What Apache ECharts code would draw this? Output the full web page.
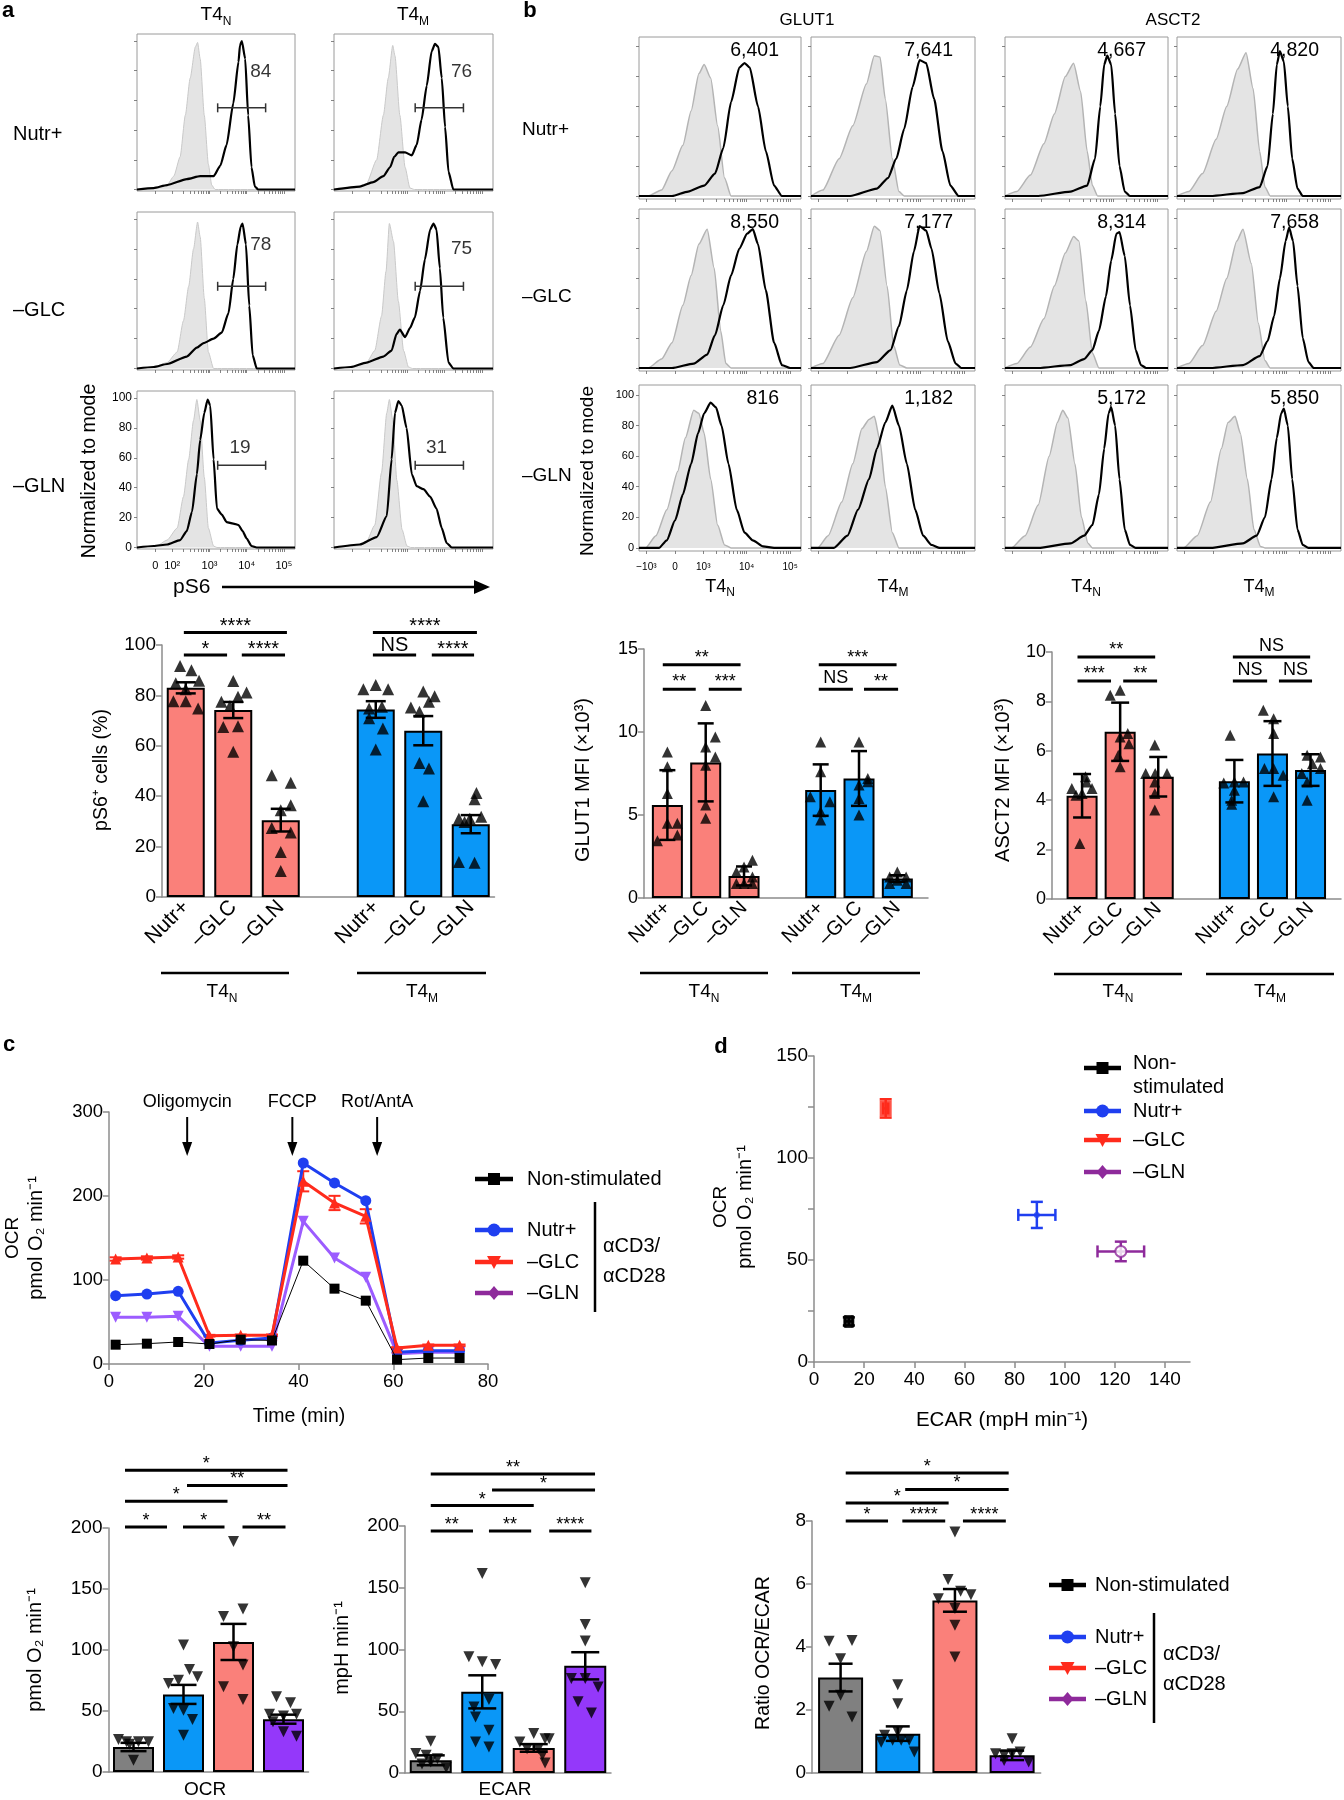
<!DOCTYPE html>
<html>
<head>
<meta charset="utf-8">
<title>pS6, GLUT1, ASCT2 and OCR/ECAR panels</title>
<script src="https://cdn.jsdelivr.net/npm/echarts@6.0.0/dist/echarts.min.js"></script>
<style>
  html, body { margin: 0; padding: 0; background: #fff; }
  #main { width: 1344px; height: 1800px; }
</style>
</head>
<body>
<div id="main"></div>
<script>
var SANS = '"Liberation Sans", Arial, Helvetica, sans-serif';
var NARROW = '"Liberation Sans Narrow", "Liberation Sans", Arial, sans-serif';
var AXIS = '#8c8c8c';

// ---------- a: pS6 histograms, x in decades (10^3 = 3), y = % of mode ----------
var aTickVals = [1.54, 2, 3, 4, 5];
var aTickNames = ['0', '10²', '10³', '10⁴', '10⁵'];
var aRowNames = ['Nutr+', '–GLC', '–GLN'];
var aNutrN_ctrl = [[1.05,0],[1.6,1],[1.86,3],[2.04,9],[2.21,22],[2.35,50],[2.48,75],[2.62,96],[2.68,99],[2.75,88],[2.86,50],[2.97,17],[3.06,3],[3.15,0],[5.3,0]];
var aNutrN_ps6 = [[1.05,0],[1.5,1],[1.86,3],[2.39,7],[2.75,9],[3.11,9],[3.29,16],[3.46,30],[3.64,58],[3.78,86],[3.82,97],[3.87,100],[3.96,88],[4.04,50],[4.13,15],[4.22,2],[4.31,0],[5.3,0]];
var aNutrM_ctrl = [[1.05,0],[1.6,1],[1.92,4],[2.19,20],[2.37,50],[2.5,75],[2.62,97],[2.68,90],[2.81,50],[2.95,15],[3.08,1],[3.2,0],[5.3,0]];
var aNutrM_ps6 = [[1.05,0],[1.74,2],[2.1,5],[2.37,9],[2.55,15],[2.66,22],[2.77,25],[2.95,25],[3.13,23],[3.26,30],[3.39,47],[3.53,70],[3.66,93],[3.75,98],[3.84,96],[3.93,75],[4.02,42],[4.11,12],[4.24,0],[5.3,0]];
var aGlcN_ctrl = [[1.05,0],[1.5,1],[1.86,4],[2.13,11],[2.3,32],[2.44,55],[2.57,80],[2.68,98],[2.75,88],[2.86,47],[2.97,11],[3.11,0],[5.3,0]];
var aGlcN_ps6 = [[1.05,0],[1.5,1],[1.86,3],[2.39,8],[2.66,14],[2.84,17],[3.11,20],[3.33,24],[3.51,37],[3.64,60],[3.75,83],[3.84,95],[3.89,97],[3.98,83],[4.07,42],[4.16,9],[4.27,0],[5.3,0]];
var aGlcM_ctrl = [[1.05,0],[1.6,1],[1.92,4],[2.14,12],[2.32,35],[2.44,65],[2.53,97],[2.64,85],[2.77,45],[2.91,12],[3.04,1],[3.15,0],[5.3,0]];
var aGlcM_ps6 = [[1.05,0],[1.5,1],[1.92,4],[2.37,8],[2.59,12],[2.72,23],[2.81,26],[2.95,21],[3.08,27],[3.21,34],[3.35,52],[3.48,73],[3.62,93],[3.71,97],[3.79,93],[3.88,67],[3.97,34],[4.11,4],[4.24,0],[5.3,0]];
var aGlnN_ctrl = [[1.05,0],[1.58,1],[1.86,5],[2.13,13],[2.3,34],[2.44,59],[2.57,85],[2.66,99],[2.75,85],[2.86,47],[2.97,13],[3.11,1],[3.2,0],[5.3,0]];
var aGlnN_ps6 = [[1.05,0],[1.5,1],[1.86,2],[2.21,5],[2.39,11],[2.53,24],[2.66,49],[2.75,72],[2.86,90],[2.95,99],[3.02,95],[3.11,59],[3.2,26],[3.33,22],[3.46,17],[3.64,16],[3.78,15],[3.89,11],[4.0,6],[4.13,1],[4.27,0],[5.3,0]];
var aGlnM_ctrl = [[1.05,0],[1.6,1],[1.92,4],[2.14,15],[2.32,50],[2.46,90],[2.53,99],[2.62,85],[2.73,45],[2.87,12],[3.0,1],[3.1,0],[5.3,0]];
var aGlnM_ps6 = [[1.05,0],[1.74,2],[2.19,7],[2.46,21],[2.59,59],[2.68,90],[2.77,98],[2.86,95],[2.99,80],[3.13,49],[3.26,41],[3.44,39],[3.62,34],[3.79,26],[3.93,13],[4.06,3],[4.2,0],[5.3,0]];
var aGate = [3.22, 4.51, 55];
var aPct = ['84', '76', '78', '75', '19', '31'];
var aPctPos = [[4.38,79],[4.46,79],[4.38,83],[4.46,80],[3.82,67],[3.79,67]];

// ---------- b: GLUT1 / ASCT2 histograms ----------
var bTickVals = [1.69, 2.35, 3, 4, 5];
var bTickNames = ['−10³', '0', '10³', '10⁴', '10⁵'];
var bG_NutrN_ctrl = [[1.52,0],[1.73,0],[2.04,4],[2.28,17],[2.53,34],[2.72,57],[2.9,82],[3.02,88],[3.17,79],[3.33,47],[3.49,12],[3.64,0],[5.25,0]];
var bG_NutrN = [[1.52,0],[2.28,0],[2.65,3],[3.02,7],[3.27,15],[3.46,32],[3.64,63],[3.83,86],[3.95,89],[4.07,86],[4.26,60],[4.44,30],[4.63,7],[4.81,0],[5.25,0]];
var bG_NutrM_ctrl = [[1.52,0],[1.79,4],[2.16,25],[2.47,47],[2.78,75],[2.96,94],[3.09,93],[3.21,65],[3.37,25],[3.52,3],[3.64,0],[5.25,0]];
var bG_NutrM = [[1.52,0],[2.41,0],[3.02,5],[3.27,12],[3.46,25],[3.64,45],[3.83,73],[3.99,91],[4.14,89],[4.32,65],[4.51,30],[4.69,7],[4.88,0],[5.25,0]];
var bA_NutrN_ctrl = [[1.52,0],[1.79,3],[2.1,14],[2.41,35],[2.65,55],[2.9,80],[3.09,89],[3.25,70],[3.4,30],[3.52,7],[3.64,0],[5.25,0]];
var bA_NutrN = [[1.52,0],[2.28,0],[3.02,3],[3.4,7],[3.58,25],[3.7,60],[3.79,88],[3.86,94],[3.95,88],[4.04,55],[4.14,20],[4.26,3],[4.38,0],[5.25,0]];
var bA_NutrM_ctrl = [[1.52,0],[1.79,3],[2.1,15],[2.41,38],[2.65,60],[2.9,85],[3.09,96],[3.25,72],[3.4,30],[3.52,6],[3.64,0],[5.25,0]];
var bA_NutrM = [[1.52,0],[2.28,0],[3.02,2],[3.4,6],[3.58,20],[3.7,55],[3.79,88],[3.86,97],[3.95,90],[4.04,60],[4.14,25],[4.26,5],[4.38,0],[5.25,0]];
var bG_GlcN_ctrl = [[1.52,0],[1.73,0],[2.04,6],[2.28,17],[2.53,42],[2.72,62],[2.9,83],[3.09,93],[3.25,67],[3.4,25],[3.52,3],[3.64,0],[5.25,0]];
var bG_GlcN = [[1.52,0],[2.28,0],[2.78,3],[3.09,9],[3.27,22],[3.46,42],[3.64,62],[3.83,80],[4.01,90],[4.14,93],[4.26,83],[4.44,52],[4.63,17],[4.81,2],[5.0,0],[5.25,0]];
var bG_GlcM_ctrl = [[1.52,0],[1.79,3],[2.16,22],[2.47,47],[2.78,78],[2.96,95],[3.09,92],[3.25,55],[3.4,15],[3.54,2],[3.7,0],[5.25,0]];
var bG_GlcM = [[1.52,0],[2.41,0],[3.02,4],[3.33,12],[3.52,28],[3.7,52],[3.86,78],[3.99,95],[4.14,92],[4.26,80],[4.44,50],[4.63,18],[4.81,3],[4.94,0],[5.25,0]];
var bA_GlcN_ctrl = [[1.52,0],[1.79,3],[2.1,14],[2.41,33],[2.65,55],[2.9,77],[3.09,88],[3.21,85],[3.37,45],[3.52,10],[3.67,0],[5.25,0]];
var bA_GlcN = [[1.52,0],[2.28,0],[3.02,2],[3.33,6],[3.52,12],[3.67,25],[3.83,48],[3.95,72],[4.07,90],[4.14,91],[4.26,75],[4.38,42],[4.51,12],[4.63,2],[4.75,0],[5.25,0]];
var bA_GlcM_ctrl = [[1.52,0],[1.79,3],[2.1,15],[2.41,38],[2.65,60],[2.88,85],[3.02,93],[3.21,70],[3.37,30],[3.52,5],[3.64,0],[5.25,0]];
var bA_GlcM = [[1.52,0],[2.28,0],[3.02,2],[3.4,8],[3.58,18],[3.73,35],[3.86,60],[3.99,85],[4.07,94],[4.16,85],[4.26,55],[4.38,20],[4.51,4],[4.63,0],[5.25,0]];
var bG_GlnN_ctrl = [[1.52,0],[1.67,0],[1.91,8],[2.16,25],[2.41,50],[2.59,72],[2.78,90],[2.9,88],[3.02,75],[3.17,45],[3.33,15],[3.49,2],[3.64,0],[5.25,0]];
var bG_GlnN = [[1.52,0],[1.98,0],[2.16,5],[2.35,18],[2.53,35],[2.72,55],[2.88,75],[3.02,88],[3.17,95],[3.29,92],[3.42,80],[3.58,55],[3.77,25],[3.95,10],[4.14,5],[4.38,1],[4.63,0],[5.25,0]];
var bG_GlnM_ctrl = [[1.52,0],[1.67,0],[1.91,8],[2.22,30],[2.47,55],[2.68,78],[2.84,84],[2.96,86],[3.09,70],[3.21,40],[3.37,10],[3.52,0],[5.25,0]];
var bG_GlnM = [[1.52,0],[2.04,0],[2.35,8],[2.59,25],[2.84,45],[3.02,65],[3.21,82],[3.37,93],[3.52,80],[3.7,55],[3.89,25],[4.07,8],[4.26,2],[4.45,0],[5.25,0]];
var bA_GlnN_ctrl = [[1.52,0],[1.67,0],[1.98,8],[2.28,28],[2.53,60],[2.72,82],[2.84,90],[2.96,85],[3.12,55],[3.27,20],[3.42,3],[3.52,0],[5.25,0]];
var bA_GlnN = [[1.52,0],[2.28,0],[3.02,3],[3.33,8],[3.52,15],[3.67,35],[3.79,65],[3.89,88],[3.95,92],[4.04,80],[4.14,45],[4.26,12],[4.38,2],[4.51,0],[5.25,0]];
var bA_GlnM_ctrl = [[1.52,0],[1.67,0],[1.98,8],[2.28,30],[2.53,65],[2.68,82],[2.84,86],[2.96,75],[3.12,45],[3.27,12],[3.42,1],[3.52,0],[5.25,0]];
var bA_GlnM = [[1.52,0],[2.28,0],[3.02,3],[3.33,8],[3.52,20],[3.67,45],[3.79,72],[3.89,88],[3.95,91],[4.04,80],[4.14,45],[4.26,12],[4.38,2],[4.51,0],[5.25,0]];
var bMfiNutr = ['6,401', '7,641', '4,667', '4,820'];
var bMfiGlc = ['8,550', '7,177', '8,314', '7,658'];
var bMfiGln = ['816', '1,182', '5,172', '5,850'];

// ---------- a/b bar charts ----------
var condNames = ['Nutr+', '–GLC', '–GLN', 'Nutr+', '–GLC', '–GLN'];
var condSlots = [0.5, 1.5, 2.5, 4.5, 5.5, 6.5];
var ps6Mean = [83, 74.2, 30.5, 74.4, 66, 28.9];
var ps6Sem = [2.2, 3.2, 4.5, 3.3, 5.8, 3.6];
var ps6Points = [
  [[-0.12,91.7],[0.12,90],[0.28,85.8],[-0.21,84.8],[0,82.4],[-0.26,77.7],[0,77.7],[0.26,74.8]],
  [[0,85.7],[0.28,81.2],[-0.25,77.5],[0.1,79.5],[-0.07,75.8],[-0.21,67.5],[0.1,67.8],[0,57.6]],
  [[-0.19,48.3],[0.21,45.3],[0.21,36.4],[0,34.4],[-0.19,27.4],[0.21,25.6],[0,17.9],[0,10.3]],
  [[-0.26,82.4],[0,84.1],[0.26,82.4],[-0.14,74.8],[0.13,75.5],[-0.14,70.9],[0.15,66.9],[0,58.5]],
  [[0,81.5],[0.24,79.7],[-0.26,75.2],[0.12,77.5],[-0.08,73.5],[-0.08,53.2],[0.12,51],[0,38]],
  [[0.12,41.3],[0.08,38.8],[-0.25,31.1],[-0.02,31.1],[0.22,31.8],[-0.13,29.8],[-0.25,13.9],[0.08,13.6]]
];
var ps6Sig = [[0.46,1.37,96,'*'],[1.68,2.59,96,'****'],[0.46,2.63,105,'****'],[4.44,5.35,96,'NS'],[5.68,6.57,96,'****'],[4.44,6.63,105,'****']];

var glutMean = [5.6, 8.17, 1.33, 6.5, 7.2, 1.17];
var glutSd = [2.1, 2.35, 0.57, 1.55, 1.65, 0.2];
var glutPoints = [
  [[0,8.8],[0,7.9],[0,6.3],[0,4.5],[0.26,4.5],[0.26,3.8],[-0.26,3.45]],
  [[0,11.6],[0,9.1],[0.25,9.7],[0.25,8.5],[0,8.0],[0,5.6],[0,4.8]],
  [[0.22,2.27],[0,1.87],[-0.2,1.57],[0.22,1.27],[-0.2,0.87],[0,0.87],[0.22,0.87]],
  [[0,9.4],[0,7.6],[-0.27,6.1],[0.24,5.8],[0,5.2],[0,4.7]],
  [[0,9.4],[0.23,7.2],[0,6.8],[0,6.0],[0,5.0],[0.23,7.0]],
  [[0,1.57],[-0.2,1.27],[0.23,1.27],[0,1.07],[-0.2,0.87],[0.23,0.87]]
];
var glutSig = [[0.38,1.24,12.58,'**'],[1.58,2.44,12.58,'***'],[0.38,2.41,14.05,'**'],[4.45,5.34,12.58,'NS'],[5.63,6.52,12.58,'**'],[4.45,6.48,14.05,'***']];

var asctMean = [4.18, 6.77, 4.95, 4.77, 5.89, 5.22];
var asctSd = [0.88, 1.18, 0.8, 0.86, 1.31, 0.64];
var asctPoints = [
  [[-0.06,2.25],[0,4.27],[-0.27,4.47],[0.12,4.74],[0.26,4.47],[-0.16,4.2],[0.09,4.95]],
  [[-0.26,8.25],[0,8.45],[0.2,6.7],[0.23,6.29],[-0.05,5.82],[0,5.35],[0,6.56]],
  [[-0.09,6.23],[-0.33,5.08],[-0.08,5.08],[0.23,5.08],[-0.09,4.74],[-0.09,4.27],[-0.09,3.6]],
  [[-0.11,6.63],[-0.28,4.7],[0,4.74],[0.24,4.74],[0,4.4],[-0.07,4.0],[-0.07,3.84]],
  [[-0.24,7.64],[0.03,7.3],[0.03,6.7],[-0.21,5.28],[0.28,5.01],[0.03,5.28],[0.03,4.14]],
  [[-0.09,5.82],[0.26,5.75],[0.05,5.48],[-0.23,5.08],[0.26,5.28],[-0.09,4.74],[-0.09,4.0]]
];
var asctSig = [[0.38,1.26,8.83,'***'],[1.58,2.47,8.83,'**'],[0.38,2.42,9.8,'**'],[4.46,5.36,8.83,'NS'],[5.67,6.54,8.83,'NS'],[4.46,6.49,9.8,'NS']];

// ---------- c: OCR time course ----------
var ocrTime = [1.4, 8, 14.6, 21.2, 27.8, 34.4, 41, 47.6, 54.2, 60.8, 67.4, 74];
var ocrNonStim = [23, 24.2, 26.2, 23.8, 29, 28, 123, 89.7, 75.4, 5.2, 7.1, 7.1];
var ocrNutr = [81.3, 83.3, 86.5, 25, 28.2, 31, 239.3, 215.5, 194.4, 13.9, 15.9, 15.9];
var ocrGlc = [125, 126.2, 127.4, 33.7, 34.1, 34.1, 217.5, 191.7, 175.8, 19, 22.2, 22.2];
var ocrGlcErr = [2, 2, 2, 1, 1, 1, 12, 8.5, 8.5, 1, 1, 1];
var ocrGln = [55.6, 55.6, 56.7, 21, 21, 21, 169.8, 126.2, 103.2, 12.3, 13.9, 13.9];
var injTimes = [16.5, 38.7, 56.6];
var injNames = ['Oligomycin', 'FCCP', 'Rot/AntA'];

// ---------- d: OCR vs ECAR (non-stim, Nutr+, -GLC, -GLN) ----------
var dEcar = [13.9, 88.9, 28.6, 122.4];
var dEcarErr = [1.5, 7.4, 1.0, 9.3];
var dOcr = [19.9, 72.1, 124.3, 54.2];
var dOcrErr = [2, 6.4, 4.5, 4.8];

// ---------- c/d bottom bars ----------
var grpSlots = [0.5, 1.5, 2.5, 3.5];
var ocrBarMean = [20.5, 63.6, 106.6, 43.3];
var ocrBarSem = [3.4, 7.8, 14.8, 3.7];
var ocrBarPoints = [
  [[-0.3,26.6],[-0.14,24.7],[0.1,24.7],[0.3,24.7],[-0.08,22.7],[0,9.6]],
  [[0,104.1],[0.12,84.1],[-0.3,72.6],[-0.1,75.3],[0.28,78.1],[-0.2,52.1],[0,50.7],[0.18,43],[0,30.1]],
  [[0,189],[-0.2,127.4],[0.19,133.7],[0,102.7],[0.19,87.7],[-0.2,69.9],[0.19,59.5]],
  [[-0.14,61.6],[0.14,56.7],[-0.28,47.4],[0,46],[0.26,47.4],[-0.21,41.1],[0,32.9],[0.26,29.3]]
];
var ocrBarSig = [[0.33,1.17,200.8,'*'],[1.49,2.32,200.8,'*'],[2.68,3.54,200.8,'**'],[0.33,2.38,221.9,'*'],[1.57,3.58,234.8,'**'],[0.33,3.58,247.4,'*']];

var ecarBarMean = [10.3, 65.7, 20.3, 86.8];
var ecarBarSem = [4, 13.4, 3.1, 11];
var ecarBarPoints = [
  [[0,25.7],[-0.29,15.7],[-0.09,14.3],[0.13,11.6],[0,8.9],[0.3,4.3],[-0.17,7.3]],
  [[0,161.6],[-0.26,94.1],[0,90],[0.26,87.8],[-0.16,53.5],[0.13,59.5],[-0.13,45.4],[0.13,34.6],[-0.13,25.1],[0.13,21.1]],
  [[-0.27,25.1],[0,31.9],[0.22,27.8],[-0.13,19.7],[0.09,19.7],[0.17,14.3],[0.3,27.8],[0.22,8.1]],
  [[0,154.1],[0,120.3],[0,106.8],[-0.27,76.5],[0,76.5],[0.25,69.7],[-0.14,57.6],[0.12,48.6]]
];
var ecarBarSig = [[0.5,1.32,195.9,'**'],[1.63,2.45,195.9,'**'],[2.8,3.62,195.9,'****'],[0.5,2.5,216.5,'*'],[1.69,3.69,229.2,'*'],[0.5,3.69,242.2,'**']];

var ratioMean = [3.03, 1.25, 5.48, 0.56];
var ratioSem = [0.44, 0.23, 0.36, 0.15];
var ratioPoints = [
  [[-0.2,4.18],[0.2,4.21],[0,3.63],[0,2.47],[-0.2,2.12],[0.2,1.78]],
  [[0,2.8],[0,2.2],[-0.23,1.2],[-0.09,1.04],[0.06,1.04],[0.2,1.04],[0.29,0.67],[0,1.3],[-0.29,0.98]],
  [[0,7.65],[-0.12,6.14],[-0.29,5.53],[0.1,5.77],[0.28,5.66],[0,5.22],[0,4.69],[0,3.68]],
  [[0,1.09],[-0.29,0.61],[-0.14,0.56],[0,0.61],[0.14,0.67],[0.29,0.35],[-0.14,0.4]]
];
var ratioSig = [[0.59,1.33,8.0,'*'],[1.58,2.33,8.0,'****'],[2.64,3.39,8.0,'****'],[0.59,2.39,8.57,'*'],[1.63,3.44,9.0,'*'],[0.59,3.44,9.52,'*']];

var RED_BAR = '#fa807a', BLUE_BAR = '#0a97f7', GREY_BAR = '#808080', PURPLE_BAR = '#9438fa';
var NUTR = '#1f3ff0', GLC = '#ff2b1c', GLN_LINE = '#9c5cff', GLN_DARK = '#8e2a9b';

// ---------- building blocks ----------
var grid = [], xAxis = [], yAxis = [], series = [], elements = [];

function addAxes(box, xa, ya) {
  var gi = grid.length;
  grid.push({left: box[0], top: box[1], width: box[2] - box[0], height: box[3] - box[1]});
  xa.gridIndex = gi; ya.gridIndex = gi;
  xa.axisLine = xa.axisLine || {show: false};
  ya.axisLine = ya.axisLine || {show: false};
  xa.axisLine.onZero = false; ya.axisLine.onZero = false;
  xa.splitLine = {show: false}; ya.splitLine = {show: false};
  xAxis.push(xa); yAxis.push(ya);
  return gi;
}

function labelFor(values, names) {
  return function (v) {
    var best = 0;
    for (var k = 1; k < values.length; k++) {
      if (Math.abs(values[k] - v) < Math.abs(values[best] - v)) best = k;
    }
    return names[best];
  };
}

function logTicks(lo, hi, extra) {
  var t = extra.slice();
  for (var d = lo; d < hi; d++) for (var k = 1; k < 10; k++) t.push(d + Math.log10(k));
  t.push(hi);
  return t;
}

function txt(x, y, s, fs, align, opt) {
  opt = opt || {};
  var el = {type: 'text', x: x, y: y, z: 100, style: {
    text: s, font: (opt.bold ? 'bold ' : '') + fs + 'px ' + (opt.font || SANS), fill: '#000',
    textAlign: align || 'center', textVerticalAlign: 'middle', align: align || 'center', verticalAlign: 'middle'}};
  if (opt.rot) el.rotation = Math.PI / 2;
  return el;
}

function subTxt(x, y, main, sub, fs, font) {
  return {type: 'text', x: x, y: y, z: 100, style: {
    text: '{m|' + main + '}{s|' + sub + '}',
    rich: {
      m: {fontSize: fs, fontFamily: font || SANS, fill: '#000', color: '#000', lineHeight: fs * 1.3},
      s: {fontSize: Math.round(fs * 0.65), fontFamily: font || SANS, fill: '#000', color: '#000', verticalAlign: 'bottom', lineHeight: fs * 1.3}
    },
    textAlign: 'center', textVerticalAlign: 'middle', align: 'center', verticalAlign: 'middle'}};
}

function hline(x1, x2, y, w, color) {
  return {type: 'line', z: 100, shape: {x1: x1, y1: y, x2: x2, y2: y}, style: {stroke: color || '#000', lineWidth: w}};
}
function vline(x, y1, y2, w, color) {
  return {type: 'line', z: 100, shape: {x1: x, y1: y1, x2: x, y2: y2}, style: {stroke: color || '#000', lineWidth: w}};
}

function histogram(box, xr, yr, ticks, showX, showY, ctrl, stain, ctrlLine, fs) {
  var yTicks = [0, 20, 40, 60, 80, 100];
  var i = addAxes(box, {
    type: 'value', min: xr[0], max: xr[1],
    axisTick: {show: true, length: 3, customValues: ticks.minor, lineStyle: {color: '#666', width: 0.8}},
    axisLabel: {show: showX, customValues: ticks.values, formatter: labelFor(ticks.values, ticks.names),
      fontSize: fs, fontFamily: SANS, color: '#000', margin: 11}
  }, {
    type: 'value', min: yr[0], max: yr[1],
    axisTick: {show: true, length: 3, customValues: yTicks, lineStyle: {color: '#666', width: 0.8}},
    axisLabel: {show: showY, customValues: yTicks, fontSize: fs + 1, fontFamily: SANS, color: '#000', margin: 5}
  });
  grid[i].show = true; grid[i].borderColor = '#9a9a9a'; grid[i].borderWidth = 1;
  series.push({type: 'line', xAxisIndex: i, yAxisIndex: i, data: ctrl, showSymbol: false, smooth: 0.2,
    smoothMonotone: 'x', silent: true, z: 2,
    lineStyle: {color: ctrlLine[0], width: ctrlLine[1]}, areaStyle: {color: '#e4e4e4', opacity: 1}});
  series.push({type: 'line', xAxisIndex: i, yAxisIndex: i, data: stain, showSymbol: false, smooth: 0.2,
    smoothMonotone: 'x', silent: true, z: 3, lineStyle: {color: '#000', width: 2.2}});
  return i;
}

function errorSeries(i, rows, color, cap, width) {
  series.push({type: 'custom', xAxisIndex: i, yAxisIndex: i, clip: false, silent: true, z: 4,
    data: rows,
    renderItem: function (p, api) {
      var lo = api.coord([api.value(0), api.value(1)]);
      var hi = api.coord([api.value(0), api.value(2)]);
      var s = {stroke: color, lineWidth: width};
      return {type: 'group', children: [
        {type: 'line', shape: {x1: lo[0], y1: lo[1], x2: hi[0], y2: hi[1]}, style: s},
        {type: 'line', shape: {x1: lo[0] - cap, y1: lo[1], x2: lo[0] + cap, y2: lo[1]}, style: s},
        {type: 'line', shape: {x1: hi[0] - cap, y1: hi[1], x2: hi[0] + cap, y2: hi[1]}, style: s}
      ]};
    }});
}

function bracketSeries(i, list, fs, font, gap) {
  series.push({type: 'custom', xAxisIndex: i, yAxisIndex: i, clip: false, silent: true, z: 6,
    data: list.map(function (b) { return [b[0], b[2], b[1]]; }),
    renderItem: function (p, api) {
      var a = api.coord([api.value(0), api.value(1)]);
      var b = api.coord([api.value(2), api.value(1)]);
      var label = list[p.dataIndex][3];
      var star = label.indexOf('*') >= 0;
      return {type: 'group', children: [
        {type: 'line', shape: {x1: a[0], y1: a[1], x2: b[0], y2: b[1]}, style: {stroke: '#000', lineWidth: 3}},
        {type: 'text', x: (a[0] + b[0]) / 2, y: a[1] - gap + (star ? fs * 0.22 : 0),
          style: {text: label, font: fs + 'px ' + font, fill: '#000', textAlign: 'center',
            textVerticalAlign: 'middle', align: 'center', verticalAlign: 'middle'}}
      ]};
    }});
}

function barChart(o) {
  var i = addAxes([o.left, o.top, o.left + o.width, o.bottom], {
    type: 'value', min: o.xMin, max: o.xMax,
    axisLine: {show: true, lineStyle: {color: AXIS, width: 1.5}},
    axisTick: {show: false},
    axisLabel: o.names ? {show: true, customValues: o.slots, formatter: labelFor(o.slots, o.names), rotate: 45,
      fontSize: o.xfs, fontFamily: o.font, color: '#000', margin: 7} : {show: false}
  }, {
    type: 'value', min: 0, max: o.yMax, interval: o.yStep,
    axisLine: {show: true, lineStyle: {color: AXIS, width: 1.5}},
    axisTick: {show: true, length: 6, lineStyle: {color: AXIS, width: 1.5}},
    axisLabel: {fontSize: o.fs, fontFamily: o.font, color: '#000', margin: 6}
  });
  series.push({type: 'bar', xAxisIndex: i, yAxisIndex: i, barWidth: o.barWidth, silent: true, z: 2,
    data: o.slots.map(function (s, k) {
      return {value: [s, o.means[k]], itemStyle: {color: o.colors[k], borderColor: '#000', borderWidth: 2}};
    })});
  errorSeries(i, o.slots.map(function (s, k) { return [s, o.means[k] - o.errs[k], o.means[k] + o.errs[k]]; }),
    '#000', o.cap, 2.5);
  var pts = [];
  o.points.forEach(function (arr, k) { arr.forEach(function (p) { pts.push([o.slots[k] + p[0], p[1]]); }); });
  series.push({type: 'scatter', xAxisIndex: i, yAxisIndex: i, data: pts, symbol: 'triangle',
    symbolRotate: o.down ? 180 : 0, symbolSize: o.ms, itemStyle: {color: '#000'}, z: 5, silent: true});
  bracketSeries(i, o.sig, o.sigFs, o.font, o.sigGap);
  return i;
}

// ---------- a: histograms ----------
var aCols = [[137, 295], [334, 493]];
var aRowsY = [[34, 191], [212, 370], [391, 549]];
var aCurves = [[aNutrN_ctrl, aNutrN_ps6, aNutrM_ctrl, aNutrM_ps6],
               [aGlcN_ctrl, aGlcN_ps6, aGlcM_ctrl, aGlcM_ps6],
               [aGlnN_ctrl, aGlnN_ps6, aGlnM_ctrl, aGlnM_ps6]];
var aTicks = {values: aTickVals, names: aTickNames, minor: logTicks(2, 5, [1.54])};
for (var r = 0; r < 3; r++) {
  for (var c = 0; c < 2; c++) {
    var last = (r === 2 && c === 0);
    var hi = histogram([aCols[c][0], aRowsY[r][0], aCols[c][1], aRowsY[r][1]], [1.05, 5.3], [-1, 104.7],
      aTicks, last, last, aCurves[r][c * 2], aCurves[r][c * 2 + 1], ['#c9c9c9', 1], 11);
    series.push({type: 'line', xAxisIndex: hi, yAxisIndex: hi, data: [[aGate[0], aGate[2]], [aGate[1], aGate[2]]],
      symbol: 'rect', symbolSize: [1.5, 9], showSymbol: true, silent: true, z: 4,
      lineStyle: {color: '#333', width: 1.5}, itemStyle: {color: '#333'}});
    series.push({type: 'scatter', xAxisIndex: hi, yAxisIndex: hi, data: [aPctPos[r * 2 + c]], symbolSize: 0, silent: true, z: 5,
      label: {show: true, position: 'inside', formatter: aPct[r * 2 + c], fontSize: 19, fontFamily: SANS, color: '#000'}});
  }
  elements.push(txt(13, [134, 310, 486][r], aRowNames[r], 20, 'left'));
}
elements.push(txt(8, 11, 'a', 22, 'center', {bold: true}));
elements.push(subTxt(216, 15, 'T4', 'N', 19));
elements.push(subTxt(413, 15, 'T4', 'M', 19));
elements.push(txt(90, 471, 'Normalized to mode', 19.5, 'center', {rot: true}));
elements.push(txt(173, 587, 'pS6', 21, 'left'));
elements.push(hline(222, 476, 587, 2.5));
elements.push({type: 'polygon', z: 100, shape: {points: [[474, 580], [490, 587], [474, 594]]}, style: {fill: '#000'}});

// ---------- b: histograms ----------
var bCols = [[639, 801], [811, 975], [1005, 1168], [1177, 1341]];
var bRowsY = [[37, 199], [209, 371], [385, 551]];
var bCurves = [
  [bG_NutrN_ctrl, bG_NutrN, bG_NutrM_ctrl, bG_NutrM, bA_NutrN_ctrl, bA_NutrN, bA_NutrM_ctrl, bA_NutrM],
  [bG_GlcN_ctrl, bG_GlcN, bG_GlcM_ctrl, bG_GlcM, bA_GlcN_ctrl, bA_GlcN, bA_GlcM_ctrl, bA_GlcM],
  [bG_GlnN_ctrl, bG_GlnN, bG_GlnM_ctrl, bG_GlnM, bA_GlnN_ctrl, bA_GlnN, bA_GlnM_ctrl, bA_GlnM]];
var bMfi = [bMfiNutr, bMfiGlc, bMfiGln];
var bTicks = {values: bTickVals, names: bTickNames, minor: logTicks(3, 5, [1.69, 2.35])};
for (r = 0; r < 3; r++) {
  for (c = 0; c < 4; c++) {
    var lastB = (r === 2 && c === 0);
    histogram([bCols[c][0], bRowsY[r][0], bCols[c][1], bRowsY[r][1]], [1.52, 5.25], [-2, 106.5],
      bTicks, lastB, lastB, bCurves[r][c * 2], bCurves[r][c * 2 + 1], ['#b4b4b4', 1.5], 10);
    elements.push(txt(bCols[c][1] - 22, bRowsY[r][0] + 14, bMfi[r][c], 19.5, 'right', {font: NARROW}));
  }
  elements.push(txt(522, [130, 297, 476][r], aRowNames[r], 19, 'left', {font: NARROW}));
}
elements.push(txt(530, 11, 'b', 22, 'center', {bold: true}));
elements.push(txt(807, 20, 'GLUT1', 17, 'center', {font: NARROW}));
elements.push(txt(1173, 20, 'ASCT2', 17, 'center', {font: NARROW}));
elements.push(txt(588, 471, 'Normalized to mode', 19, 'center', {rot: true, font: NARROW}));
[['N', 720], ['M', 893], ['N', 1086], ['M', 1259]].forEach(function (t) {
  elements.push(subTxt(t[1], 587, 'T4', t[0], 18, NARROW));
});

// ---------- a: pS6 bar chart ----------
barChart({left: 162, width: 332.5, top: 645, bottom: 897, xMin: 0, xMax: 7, yMax: 100, yStep: 20,
  slots: condSlots, names: condNames, means: ps6Mean, errs: ps6Sem, points: ps6Points,
  colors: [RED_BAR, RED_BAR, RED_BAR, BLUE_BAR, BLUE_BAR, BLUE_BAR], barWidth: 38, cap: 10, ms: 12,
  sig: ps6Sig, sigFs: 20, sigGap: 10, fs: 19, xfs: 21, font: SANS});
elements.push(txt(102, 770, 'pS6⁺ cells (%)', 19.5, 'center', {rot: true}));
elements.push(hline(161, 289, 973, 2.5), hline(357, 486, 973, 2.5));
elements.push(subTxt(222, 992, 'T4', 'N', 19), subTxt(422, 992, 'T4', 'M', 19));

// ---------- b: GLUT1 and ASCT2 bar charts ----------
barChart({left: 644, width: 284, top: 649, bottom: 898, xMin: -0.11, xMax: 7.3, yMax: 15, yStep: 5,
  slots: condSlots, names: condNames, means: glutMean, errs: glutSd, points: glutPoints,
  colors: [RED_BAR, RED_BAR, RED_BAR, BLUE_BAR, BLUE_BAR, BLUE_BAR], barWidth: 31, cap: 8, ms: 11,
  sig: glutSig, sigFs: 18, sigGap: 11, fs: 18, xfs: 20, font: NARROW});
elements.push(txt(583, 780, 'GLUT1 MFI (×10³)', 20, 'center', {rot: true, font: NARROW}));
elements.push(hline(640, 768, 973, 2.5), hline(792, 920, 973, 2.5));
elements.push(subTxt(704, 992, 'T4', 'N', 19, NARROW), subTxt(856, 992, 'T4', 'M', 19, NARROW));

barChart({left: 1052, width: 289, top: 652, bottom: 899, xMin: -0.29, xMax: 7.3, yMax: 10, yStep: 2,
  slots: condSlots, names: condNames, means: asctMean, errs: asctSd, points: asctPoints,
  colors: [RED_BAR, RED_BAR, RED_BAR, BLUE_BAR, BLUE_BAR, BLUE_BAR], barWidth: 31, cap: 9, ms: 11,
  sig: asctSig, sigFs: 18, sigGap: 11, fs: 18, xfs: 20, font: NARROW});
elements.push(txt(1003, 780, 'ASCT2 MFI (×10³)', 20, 'center', {rot: true, font: NARROW}));
elements.push(hline(1054, 1182, 974, 2.5), hline(1206, 1334, 974, 2.5));
elements.push(subTxt(1118, 992, 'T4', 'N', 19, NARROW), subTxt(1270, 992, 'T4', 'M', 19, NARROW));

// ---------- c: OCR time course ----------
var ci = addAxes([109, 1112, 488, 1364], {
  type: 'value', min: 0, max: 80, interval: 20,
  axisLine: {show: true, lineStyle: {color: AXIS, width: 1.5}},
  axisTick: {show: true, length: 6, lineStyle: {color: AXIS, width: 1.5}},
  axisLabel: {fontSize: 18.5, fontFamily: NARROW, color: '#000', margin: 8}
}, {
  type: 'value', min: 0, max: 300, interval: 100,
  axisLine: {show: true, lineStyle: {color: AXIS, width: 1.5}},
  axisTick: {show: true, length: 6, lineStyle: {color: AXIS, width: 1.5}},
  axisLabel: {fontSize: 18.5, fontFamily: NARROW, color: '#000', margin: 6}
});
function timeSeries(name, vals, color, width, symbol, size, rot, z) {
  series.push({type: 'line', name: name, xAxisIndex: ci, yAxisIndex: ci, silent: true, z: z,
    data: ocrTime.map(function (t, k) { return [t, vals[k]]; }),
    symbol: symbol, symbolSize: size, symbolRotate: rot, showSymbol: true,
    lineStyle: {color: color, width: width}, itemStyle: {color: color}});
}
timeSeries('–GLN', ocrGln, GLN_LINE, 3, 'triangle', 11, 180, 3);
timeSeries('Nutr+', ocrNutr, NUTR, 3, 'circle', 11, 0, 4);
timeSeries('–GLC', ocrGlc, GLC, 3, 'triangle', 11, 0, 5);
timeSeries('Non-stimulated', ocrNonStim, '#000', 1, 'rect', 10, 0, 6);
errorSeries(ci, ocrTime.map(function (t, k) { return [t, ocrGlc[k] - ocrGlcErr[k], ocrGlc[k] + ocrGlcErr[k]]; }), GLC, 6, 2);
series.push({type: 'custom', xAxisIndex: ci, yAxisIndex: ci, clip: false, silent: true, z: 7,
  data: injTimes.map(function (t) { return [t, 300]; }),
  renderItem: function (p, api) {
    var top = api.coord([api.value(0), api.value(1)]);
    return {type: 'group', children: [
      {type: 'text', x: top[0], y: top[1] - 10, style: {text: injNames[p.dataIndex], font: '18px ' + NARROW, fill: '#000',
        textAlign: 'center', textVerticalAlign: 'middle', align: 'center', verticalAlign: 'middle'}},
      {type: 'line', shape: {x1: top[0], y1: top[1] + 5, x2: top[0], y2: top[1] + 34}, style: {stroke: '#000', lineWidth: 2}},
      {type: 'polygon', shape: {points: [[top[0] - 5, top[1] + 30], [top[0] + 5, top[1] + 30], [top[0], top[1] + 44]]}, style: {fill: '#000'}}
    ]};
  }});
elements.push(txt(9, 1045, 'c', 22, 'center', {bold: true}));
elements.push(txt(13, 1238, 'OCR', 19, 'center', {rot: true, font: NARROW}));
elements.push(txt(36, 1238, 'pmol O₂ min⁻¹', 20, 'center', {rot: true, font: NARROW}));
elements.push(txt(299, 1417, 'Time (min)', 19.5, 'center', {font: NARROW}));

function legendRow(x1, x2, y, color, shape, text, tx, fs) {
  var cx = (x1 + x2) / 2, rr = 6;
  elements.push(hline(x1, x2, y, 4.5, color));
  if (shape === 'rect') elements.push({type: 'rect', z: 101, shape: {x: cx - rr, y: y - rr, width: 2 * rr, height: 2 * rr}, style: {fill: color}});
  else if (shape === 'circle') elements.push({type: 'circle', z: 101, shape: {cx: cx, cy: y, r: rr + 0.5}, style: {fill: color}});
  else if (shape === 'down') elements.push({type: 'polygon', z: 101, shape: {points: [[cx - rr - 1, y - rr], [cx + rr + 1, y - rr], [cx, y + rr + 1]]}, style: {fill: color}});
  else elements.push({type: 'polygon', z: 101, shape: {points: [[cx, y - rr - 1], [cx + rr, y], [cx, y + rr + 1], [cx - rr, y]]}, style: {fill: color}});
  if (text) elements.push(txt(tx, y, text, fs, 'left', {font: NARROW}));
}
legendRow(475, 513, 1179, '#000', 'rect', 'Non-stimulated', 527, 20);
legendRow(475, 513, 1230, NUTR, 'circle', 'Nutr+', 527, 20);
legendRow(475, 513, 1262, GLC, 'down', '–GLC', 527, 20);
legendRow(475, 513, 1293, GLN_DARK, 'diamond', '–GLN', 527, 20);
elements.push(vline(595, 1202, 1312, 2.5));
elements.push(txt(603, 1246, 'αCD3/', 20, 'left', {font: NARROW}));
elements.push(txt(603, 1276, 'αCD28', 20, 'left', {font: NARROW}));

// ---------- d: OCR vs ECAR ----------
var di = addAxes([814, 1056, 1190, 1362], {
  type: 'value', min: 0, max: 150, interval: 20,
  axisLine: {show: true, lineStyle: {color: AXIS, width: 1.5}},
  axisTick: {show: true, length: 6, lineStyle: {color: AXIS, width: 1.5}},
  axisLabel: {fontSize: 19, fontFamily: NARROW, color: '#000', margin: 8}
}, {
  type: 'value', min: 0, max: 150, interval: 25,
  axisLine: {show: true, lineStyle: {color: AXIS, width: 1.5}},
  axisTick: {show: true, length: 6, lineStyle: {color: AXIS, width: 1.5}},
  axisLabel: {fontSize: 19, fontFamily: NARROW, color: '#000', margin: 6,
    formatter: function (v) { return v % 50 === 0 ? String(v) : ''; }}
});
var dColors = ['#000', NUTR, GLC, GLN_DARK];
series.push({type: 'custom', xAxisIndex: di, yAxisIndex: di, clip: false, silent: true, z: 4,
  data: dEcar.map(function (x, k) { return [x, dOcr[k], dEcarErr[k], dOcrErr[k]]; }),
  renderItem: function (p, api) {
    var x = api.value(0), y = api.value(1), xe = api.value(2), ye = api.value(3);
    var l = api.coord([x - xe, y]), rgt = api.coord([x + xe, y]), b = api.coord([x, y - ye]), t = api.coord([x, y + ye]);
    var s = {stroke: dColors[p.dataIndex], lineWidth: 2.5};
    return {type: 'group', children: [
      {type: 'line', shape: {x1: l[0], y1: l[1], x2: rgt[0], y2: rgt[1]}, style: s},
      {type: 'line', shape: {x1: l[0], y1: l[1] - 6, x2: l[0], y2: l[1] + 6}, style: s},
      {type: 'line', shape: {x1: rgt[0], y1: rgt[1] - 6, x2: rgt[0], y2: rgt[1] + 6}, style: s},
      {type: 'line', shape: {x1: b[0], y1: b[1], x2: t[0], y2: t[1]}, style: s},
      {type: 'line', shape: {x1: b[0] - 6, y1: b[1], x2: b[0] + 6, y2: b[1]}, style: s},
      {type: 'line', shape: {x1: t[0] - 6, y1: t[1], x2: t[0] + 6, y2: t[1]}, style: s}
    ]};
  }});
series.push({type: 'scatter', xAxisIndex: di, yAxisIndex: di, silent: true, z: 5,
  data: [
    {value: [dEcar[0], dOcr[0]], symbol: 'roundRect', symbolSize: [11, 13], itemStyle: {color: '#000'}},
    {value: [dEcar[1], dOcr[1]], symbol: 'circle', symbolSize: 6, itemStyle: {color: NUTR}},
    {value: [dEcar[2], dOcr[2]], symbol: 'rect', symbolSize: [12, 16], itemStyle: {color: GLC}},
    {value: [dEcar[3], dOcr[3]], symbol: 'emptyCircle', symbolSize: 11, itemStyle: {color: GLN_DARK, borderWidth: 2.5}}
  ]});
elements.push(txt(721, 1047, 'd', 22, 'center', {bold: true}));
elements.push(txt(721, 1207, 'OCR', 19, 'center', {rot: true, font: NARROW}));
elements.push(txt(745, 1207, 'pmol O₂ min⁻¹', 20, 'center', {rot: true, font: NARROW}));
elements.push(txt(1002, 1420, 'ECAR (mpH min⁻¹)', 20.5, 'center', {font: NARROW}));
legendRow(1084, 1121, 1068, '#000', 'rect', '', 0, 20);
elements.push(txt(1133, 1063, 'Non-', 20, 'left', {font: NARROW}));
elements.push(txt(1133, 1087, 'stimulated', 20, 'left', {font: NARROW}));
legendRow(1084, 1121, 1111, NUTR, 'circle', 'Nutr+', 1133, 20);
legendRow(1084, 1121, 1140, GLC, 'down', '–GLC', 1133, 20);
legendRow(1084, 1121, 1172, GLN_DARK, 'diamond', '–GLN', 1133, 20);

// ---------- bottom bars ----------
var grpColors = [GREY_BAR, BLUE_BAR, RED_BAR, PURPLE_BAR];
barChart({left: 108.5, width: 200, top: 1528, bottom: 1772, xMin: 0, xMax: 4, yMax: 200, yStep: 50,
  slots: grpSlots, names: null, means: ocrBarMean, errs: ocrBarSem, points: ocrBarPoints,
  colors: grpColors, barWidth: 41, cap: 13, ms: 11, down: true,
  sig: ocrBarSig, sigFs: 18, sigGap: 10, fs: 19, font: NARROW});
elements.push(txt(35, 1650, 'pmol O₂ min⁻¹', 20, 'center', {rot: true, font: NARROW}));
elements.push(txt(205, 1790, 'OCR', 19, 'center', {font: NARROW}));

barChart({left: 405, width: 206, top: 1526, bottom: 1773, xMin: 0, xMax: 4, yMax: 200, yStep: 50,
  slots: grpSlots, names: null, means: ecarBarMean, errs: ecarBarSem, points: ecarBarPoints,
  colors: grpColors, barWidth: 42, cap: 14, ms: 11, down: true,
  sig: ecarBarSig, sigFs: 18, sigGap: 10, fs: 19, font: NARROW});
elements.push(txt(342, 1648, 'mpH min⁻¹', 20, 'center', {rot: true, font: NARROW}));
elements.push(txt(505, 1790, 'ECAR', 19, 'center', {font: NARROW}));

barChart({left: 812, width: 228.7, top: 1521, bottom: 1773, xMin: 0, xMax: 4, yMax: 8, yStep: 2,
  slots: grpSlots, names: null, means: ratioMean, errs: ratioSem, points: ratioPoints,
  colors: grpColors, barWidth: 45, cap: 12, ms: 11, down: true,
  sig: ratioSig, sigFs: 18, sigGap: 10, fs: 19, font: NARROW});
elements.push(txt(764, 1653, 'Ratio OCR/ECAR', 19.5, 'center', {rot: true, font: NARROW}));
legendRow(1049, 1086, 1585, '#000', 'rect', 'Non-stimulated', 1095, 20);
legendRow(1049, 1086, 1637, NUTR, 'circle', 'Nutr+', 1095, 20);
legendRow(1049, 1086, 1668, GLC, 'down', '–GLC', 1095, 20);
legendRow(1049, 1086, 1699, GLN_DARK, 'diamond', '–GLN', 1095, 20);
elements.push(vline(1154, 1613, 1723, 2.5));
elements.push(txt(1163, 1654, 'αCD3/', 20, 'left', {font: NARROW}));
elements.push(txt(1163, 1684, 'αCD28', 20, 'left', {font: NARROW}));

var chart = echarts.init(document.getElementById('main'));
chart.setOption({
  animation: false,
  backgroundColor: '#fff',
  grid: grid,
  xAxis: xAxis,
  yAxis: yAxis,
  series: series,
  graphic: {elements: elements}
});
</script>
</body>
</html>
